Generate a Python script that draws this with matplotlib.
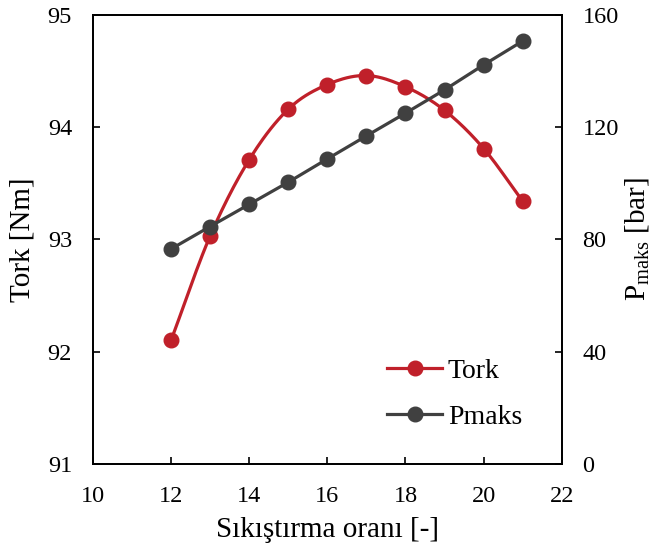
import numpy as np
import matplotlib
matplotlib.use("Agg")
import matplotlib.pyplot as plt

# Veriler
oran = [12, 13, 14, 15, 16, 17, 18, 19, 20, 21]
tork = [92.10, 93.03, 93.71, 94.16, 94.38, 94.46, 94.36, 94.15, 93.81, 93.34]
pmaks = [76.6, 84.6, 92.5, 100.4, 108.7, 116.9, 125.0, 133.3, 142.2, 150.7]

plt.rcParams['font.family'] = ['Liberation Serif', 'DejaVu Serif']
plt.rcParams['mathtext.fontset'] = 'custom'
plt.rcParams['mathtext.rm'] = 'Liberation Serif'

kirmizi = '#C0202A'
gri = '#404040'


def yumusat(x, y, n=20):
    # Excel tarzı yumuşak çizgi için Catmull-Rom eğrisi
    x = np.asarray(x, float)
    y = np.asarray(y, float)
    px = np.concatenate([[2 * x[0] - x[1]], x, [2 * x[-1] - x[-2]]])
    py = np.concatenate([[2 * y[0] - y[1]], y, [2 * y[-1] - y[-2]]])
    xs, ys = [], []
    t = np.linspace(0, 1, n, endpoint=False)
    for i in range(1, len(px) - 2):
        for p, out in ((px, xs), (py, ys)):
            p0, p1, p2, p3 = p[i - 1], p[i], p[i + 1], p[i + 2]
            out.extend(0.5 * (2 * p1 + (-p0 + p2) * t
                              + (2 * p0 - 5 * p1 + 4 * p2 - p3) * t ** 2
                              + (-p0 + 3 * p1 - 3 * p2 + p3) * t ** 3))
    xs.append(x[-1])
    ys.append(y[-1])
    return np.array(xs), np.array(ys)


fig = plt.figure(figsize=(6.54, 5.53), dpi=100)
ax = fig.add_axes([0.142, 0.161, 0.717, 0.812])
ax2 = ax.twinx()

sx, sy = yumusat(oran, tork)
ax.plot(sx, sy, color=kirmizi, lw=2.3, zorder=3)
ax.plot(oran, tork, 'o', color=kirmizi, ms=10.5, zorder=4)
ax2.plot(oran, pmaks, '-o', color=gri, lw=2.3, ms=10.5)

ax.set_xlim(10, 22)
ax.set_ylim(91, 95)
ax2.set_ylim(0, 160)
ax.set_xticks(range(10, 23, 2))
ax.set_yticks([91, 92, 93, 94, 95])
ax2.set_yticks([0, 40, 80, 120, 160])

ax.tick_params(direction='in', length=5, width=1.2, labelsize=17.5)
ax.tick_params(axis='y', pad=15)
ax.tick_params(axis='x', pad=16)
ax2.tick_params(direction='in', length=5, width=1.2, labelsize=17.5, pad=15)
for a in (ax, ax2):
    for s in a.spines.values():
        s.set_linewidth(1.3)
        s.set_color('black')

ax.set_xlabel('Sıkıştırma oranı [-]', fontsize=21, labelpad=7)
ax.set_ylabel('Tork [Nm]', fontsize=21, labelpad=9)
ax2.set_ylabel(r'P$_{\mathrm{maks}}$ [bar]', fontsize=21, labelpad=3)

# Lejant
h1 = plt.Line2D([], [], color=kirmizi, marker='o', lw=2.3, ms=10.5)
h2 = plt.Line2D([], [], color=gri, marker='o', lw=2.3, ms=10.5)
ax2.legend([h1, h2], ['Tork', 'Pmaks'], loc='upper left', frameon=False,
           bbox_to_anchor=(0.627, 0.235), borderpad=0, borderaxespad=0,
           handlelength=2.0, labelspacing=0.75, handletextpad=0.2,
           fontsize=20)

fig.savefig('out.png', dpi=100)
